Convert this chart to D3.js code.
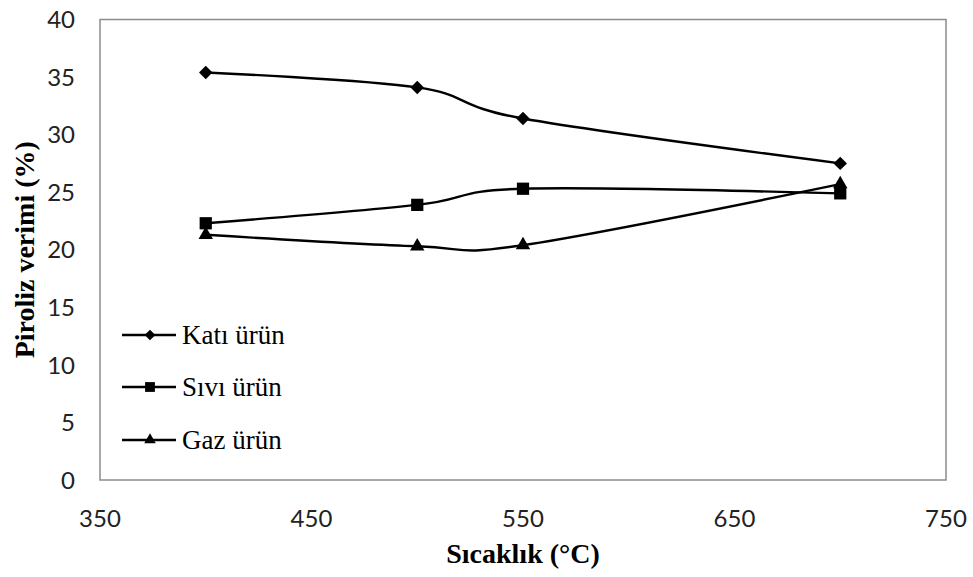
<!DOCTYPE html>
<html>
<head>
<meta charset="utf-8">
<script src="https://cdn.jsdelivr.net/npm/d3@7"></script>
<style>
  body { margin: 0; background: #fff; }
</style>
</head>
<body>
<div id="chart"></div>
<script>
const temps = [400, 500, 550, 700];
const katiUrun = [35.4, 34.1, 31.4, 27.5];
const siviUrun = [22.3, 23.9, 25.3, 24.9];
const gazUrun = [21.3, 20.3, 20.4, 25.7];
const seriesNames = ["Katı ürün", "Sıvı ürün", "Gaz ürün"];
const xTicks = [350, 450, 550, 650, 750];
const yTicks = [0, 5, 10, 15, 20, 25, 30, 35, 40];

const width = 973;
const height = 577;
const margin = { top: 19.5, right: 27, bottom: 97, left: 100 };
const sansFont = "Lato, 'Open Sans', sans-serif";
const serifFont = "'Liberation Serif', 'Times New Roman', serif";

const series = [
  { name: seriesNames[0], values: katiUrun, marker: "diamond" },
  { name: seriesNames[1], values: siviUrun, marker: "square" },
  { name: seriesNames[2], values: gazUrun, marker: "triangle" }
];

const svg = d3.select("#chart")
  .append("svg")
  .attr("width", width)
  .attr("height", height)
  .attr("viewBox", `0 0 ${width} ${height}`);

const x = d3.scaleLinear().domain([350, 750]).range([margin.left, width - margin.right]);
const y = d3.scaleLinear().domain([0, 40]).range([height - margin.bottom, margin.top]);

// plot border
svg.append("rect")
  .attr("x", x(350))
  .attr("y", y(40))
  .attr("width", x(750) - x(350))
  .attr("height", y(0) - y(40))
  .attr("fill", "none")
  .attr("stroke", "#8c8c8c")
  .attr("stroke-width", 1.5);

// y tick labels
svg.append("g")
  .selectAll("text")
  .data(yTicks)
  .enter()
  .append("text")
  .style("font-family", sansFont)
  .style("font-size", "24px")
  .attr("fill", "#222")
  .attr("x", 75)
  .attr("y", (d) => y(d))
  .attr("dy", "0.36em")
  .attr("text-anchor", "end")
  .text((d) => d);

// x tick labels
svg.append("g")
  .selectAll("text")
  .data(xTicks)
  .enter()
  .append("text")
  .style("font-family", sansFont)
  .style("font-size", "24px")
  .attr("fill", "#222")
  .attr("x", (d) => x(d))
  .attr("y", 527)
  .attr("text-anchor", "middle")
  .text((d) => d);

// axis titles
svg.append("text")
  .style("font-family", serifFont)
  .style("font-size", "28px")
  .style("font-weight", "bold")
  .attr("x", (x(350) + x(750)) / 2)
  .attr("y", 563)
  .attr("text-anchor", "middle")
  .text("Sıcaklık (°C)");

svg.append("text")
  .style("font-family", serifFont)
  .style("font-size", "28px")
  .style("font-weight", "bold")
  .attr("transform", `translate(34,${(y(0) + y(40)) / 2}) rotate(-90)`)
  .attr("text-anchor", "middle")
  .text("Piroliz verimi (%)");

// marker shapes
function markerPath(type, scale) {
  if (type === "diamond") return d3.symbol(d3.symbolSquare, 90 * scale * scale)();
  if (type === "square") return d3.symbol(d3.symbolSquare, 150 * scale * scale)();
  return d3.symbol(d3.symbolTriangle, 90 * scale * scale)();
}
function markerTransform(type, px, py) {
  return type === "diamond" ? `translate(${px},${py}) rotate(45)` : `translate(${px},${py})`;
}

const line = d3.line()
  .x((d) => x(d.t))
  .y((d) => y(d.v))
  .curve(d3.curveCardinal.tension(0));

const lines = svg.append("g");
series.forEach((s) => {
  const pts = temps.map((t, i) => ({ t: t, v: s.values[i] }));
  lines.append("path")
    .datum(pts)
    .attr("fill", "none")
    .attr("stroke", "#000")
    .attr("stroke-width", 2.4)
    .attr("d", line);

  lines.append("g")
    .selectAll("path")
    .data(pts)
    .enter()
    .append("path")
    .attr("d", markerPath(s.marker, 1))
    .attr("transform", (d) => markerTransform(s.marker, x(d.t), y(d.v)))
    .attr("fill", "#000");
});

// legend
const legendY = [335, 387, 440];
const legend = svg.append("g")
  .selectAll("g")
  .data(series)
  .enter()
  .append("g")
  .attr("transform", (d, i) => `translate(0,${legendY[i]})`);

legend.append("line")
  .attr("x1", 122)
  .attr("x2", 176)
  .attr("stroke", "#000")
  .attr("stroke-width", 2.4);

legend.append("path")
  .attr("d", (d) => markerPath(d.marker, 0.8))
  .attr("transform", (d) => markerTransform(d.marker, 150, 0))
  .attr("fill", "#000");

legend.append("text")
  .style("font-family", serifFont)
  .style("font-size", "27px")
  .attr("x", 182)
  .attr("y", 0)
  .attr("dy", "0.33em")
  .text((d) => d.name);
</script>
</body>
</html>
